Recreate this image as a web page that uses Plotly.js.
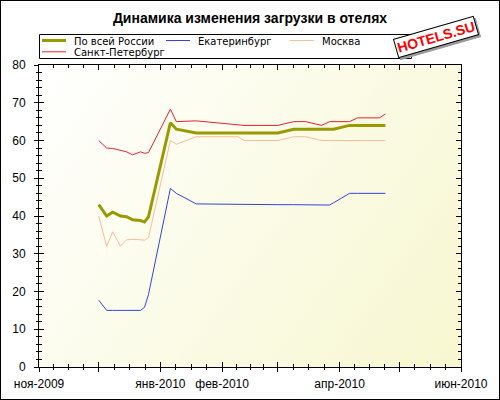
<!DOCTYPE html>
<html>
<head>
<meta charset="utf-8">
<script src="https://cdn.plot.ly/plotly-3.0.1.min.js"></script>
<style>
html,body{margin:0;padding:0;background:#fff;}
#chart{width:498px;height:398px;border:1px solid #000;}
</style>
</head>
<body>
<div id="chart"></div>
<script>
// ---- data ----
const dates = ["2009-12-01","2009-12-05","2009-12-08","2009-12-12","2009-12-15","2009-12-18",
  "2009-12-22","2009-12-24","2009-12-26","2010-01-06","2010-01-09","2010-01-19",
  "2010-02-09","2010-02-12","2010-03-01","2010-03-09","2010-03-15","2010-03-23",
  "2010-03-27","2010-03-29","2010-04-06","2010-04-10","2010-04-21","2010-04-24"];
const russia = [43, 40, 41, 40, 39.8, 39, 38.8, 38.4, 39.8, 64.7, 63, 62, 62, 62, 62, 63, 63, 63, 63, 63, 64, 64, 64, 64];
const ekb    = [17.7, 15, 15, 15, 15, 15, 15, 15.8, 19.2, 47.3, 46, 43.2, 43, 43, 43, 43, 43, 43, 42.9, 43.5, 46, 46, 46, 46];
const moscow = [40, 32, 35.8, 32, 33.7, 33.8, 33.7, 33.6, 34.3, 60, 59, 61, 61, 60, 60, 61, 61, 60, 60, 60, 60, 60, 60, 60];
const spb    = [60, 58, 57.9, 57.3, 57, 56.2, 57, 56.6, 56.8, 68.3, 65, 65.2, 64, 64, 64, 65, 65, 64, 65, 65, 65, 66, 66, 67];
const seriesNames  = ["По всей России", "Екатеринбург", "Москва", "Санкт-Петербург"];
const seriesColors = ["#999900", "#3344dd", "#ffbb96", "#e8202a"];
const seriesWidths = [3, 1, 1, 1];
const monthTicks  = ["2009-11-01","2009-12-01","2010-01-01","2010-02-01","2010-03-01","2010-04-01","2010-05-01","2010-06-01"];
const monthLabels = ["ноя-2009","","янв-2010","фев-2010","","апр-2010","","июн-2010"];
const chartTitle = "Динамика изменения загрузки в отелях";
const stampText = "HOTELS.SU";
const yRange = [0, 80];

// ---- layout geometry ----
const W = 498, H = 398;
const M = {l: 38, r: 38, t: 64, b: 32};
const PW = W - M.l - M.r, PH = H - M.t - M.b;
const FONT = "Liberation Sans, Arial, sans-serif";
const LEGFONT = "DejaVu Sans, Verdana, sans-serif";
// absolute page pixel -> paper coords (div has 1px border)
const px = X => (X - 1 - M.l) / PW;
const py = Y => (H - M.b - (Y - 1)) / PH;

// quarter-month minor ticks
const minorVals = [];
for (let i = 0; i < monthTicks.length - 1; i++) {
  const a = Date.parse(monthTicks[i] + "T00:00:00Z"), b = Date.parse(monthTicks[i + 1] + "T00:00:00Z");
  for (let k = 1; k < 4; k++) {
    minorVals.push(new Date(a + k * (b - a) / 4).toISOString().replace("T", " ").slice(0, 19));
  }
}

// background gradient
function makeBg() {
  const c = document.createElement("canvas");
  c.width = PW; c.height = PH;
  const g = c.getContext("2d");
  const gr = g.createLinearGradient(0, 0, PW, PH);
  gr.addColorStop(0, "#ffffff");
  gr.addColorStop(1, "#f7f7d0");
  g.fillStyle = gr; g.fillRect(0, 0, PW, PH);
  return c.toDataURL("image/png");
}

const values = [russia, ekb, moscow, spb];
const traces = values.map((v, i) => ({
  type: "scatter", mode: "lines", x: dates, y: v, name: seriesNames[i],
  line: {color: seriesColors[i], width: seriesWidths[i]}, showlegend: false, hoverinfo: "skip"
}));
traces.push({type: "scatter", mode: "lines", x: [], y: [], xaxis: "x2", yaxis: "y2", showlegend: false, hoverinfo: "skip"});

// manual compact legend
const shapes = [{type: "rect", xref: "paper", yref: "paper", x0: px(39.5), x1: px(411.5), y0: py(34.5), y1: py(58.5),
  line: {color: "#000", width: 1}, fillcolor: "#fff", layer: "above"}];
const annotations = [];
const legPos = [[0, 0], [1, 0], [2, 0], [0, 1]];
seriesNames.forEach((n, i) => {
  const [c, r] = legPos[i];
  const X0 = 42 + c * 124, Yl = 40.5 + r * 11.3;
  shapes.push({type: "line", xref: "paper", yref: "paper", x0: px(X0), x1: px(X0 + 24), y0: py(Yl), y1: py(Yl),
    line: {color: seriesColors[i], width: seriesWidths[i]}, layer: "above"});
  annotations.push({xref: "paper", yref: "paper", x: px(X0 + 31), y: py(Yl + 0.5), xanchor: "left", yanchor: "middle",
    text: n, showarrow: false, borderpad: 0, font: {family: LEGFONT, size: 10, color: "#000"}});
});
// stamp with shadow
annotations.push({xref: "paper", yref: "paper", x: px(436), y: py(37), xanchor: "center", yanchor: "middle",
  text: "<b>" + stampText + "</b>", showarrow: false, textangle: -16, xshift: 2, yshift: -2,
  bgcolor: "#9a9a9a", bordercolor: "#9a9a9a", borderwidth: 1, borderpad: 1,
  font: {family: FONT, size: 14, color: "#9a9a9a"}});
annotations.push({xref: "paper", yref: "paper", x: px(436), y: py(37), xanchor: "center", yanchor: "middle",
  text: "<b>" + stampText + "</b>", showarrow: false, textangle: -16,
  bgcolor: "#ffffff", bordercolor: "#000", borderwidth: 1, borderpad: 1,
  font: {family: FONT, size: 14, color: "#ff0000"}});

const xRange = [monthTicks[0], monthTicks[monthTicks.length - 1]];
const layout = {
  width: W, height: H, margin: M,
  paper_bgcolor: "#fff", plot_bgcolor: "#fcfcec",
  font: {family: FONT, size: 12, color: "#000"},
  title: {text: "<b>" + chartTitle + "</b>", font: {family: FONT, size: 14, color: "#000"},
    x: 0.5, xanchor: "center", y: 1 - 17 / H, yanchor: "middle"},
  showlegend: false,
  xaxis: {type: "date", range: xRange, tickmode: "array", tickvals: monthTicks, ticktext: monthLabels,
    ticks: "inside", ticklen: 5, tickcolor: "#000", mirror: "ticks", showline: true, linecolor: "#000", linewidth: 1,
    showgrid: false, zeroline: false, ticklabelstandoff: 6, tickfont: {family: FONT, size: 12, color: "#000"},
    minor: {tickmode: "array", tickvals: minorVals, ticks: "inside", ticklen: 3, tickcolor: "#000", showgrid: false}},
  xaxis2: {type: "date", range: xRange, overlaying: "x", anchor: "y2", tickmode: "array", tickvals: monthTicks,
    ticks: "outside", ticklen: 4, tickcolor: "#000", showline: false, showgrid: false, zeroline: false, showticklabels: false,
    minor: {tickmode: "array", tickvals: minorVals, ticks: "outside", ticklen: 2, tickcolor: "#000", showgrid: false}},
  yaxis: {range: yRange, dtick: 10, tick0: 0, ticks: "inside", ticklen: 5, tickcolor: "#000", mirror: "ticks",
    showline: true, linecolor: "#000", linewidth: 1, showgrid: false, zeroline: false, ticklabelstandoff: 10,
    tickfont: {family: FONT, size: 12, color: "#000"},
    minor: {dtick: 2, ticks: "inside", ticklen: 3, tickcolor: "#000", showgrid: false}},
  yaxis2: {range: yRange, overlaying: "y", anchor: "x2", dtick: 10, tick0: 0, ticks: "outside", ticklen: 4, tickcolor: "#000",
    showline: false, showgrid: false, zeroline: false, showticklabels: false,
    minor: {dtick: 2, ticks: "outside", ticklen: 2, tickcolor: "#000", showgrid: false}},
  images: [{source: makeBg(), xref: "paper", yref: "paper", x: 0, y: 1, sizex: 1, sizey: 1,
    sizing: "stretch", xanchor: "left", yanchor: "top", layer: "below"}],
  shapes: shapes,
  annotations: annotations
};
Plotly.newPlot("chart", traces, layout, {staticPlot: true, displayModeBar: false});
</script>
</body>
</html>
